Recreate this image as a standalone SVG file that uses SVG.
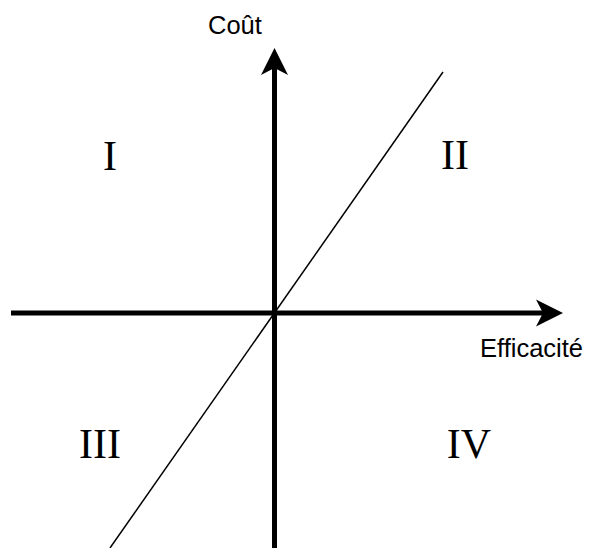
<svg xmlns="http://www.w3.org/2000/svg" width="589" height="548" viewBox="0 0 589 548">
<style>
.axis{stroke:#000;stroke-width:5;fill:none}
.diag{stroke:#000;stroke-width:1.5;fill:none}
.lbl{font-family:"Liberation Sans",Arial,sans-serif;font-size:25.5px;fill:#000}
.num{font-family:"Liberation Serif","Times New Roman",serif;font-size:42px;fill:#000;text-anchor:middle}
</style>
<rect width="589" height="548" fill="#fff"/>
<g id="connectors">
<line id="diagonal" class="diag" x1="110" y1="548" x2="443" y2="72"/>
<line id="y-axis" class="axis" x1="274.5" y1="548" x2="274.5" y2="66"/>
<path id="y-arrow" d="M274.5,48 L288,75 L274.5,68 L261,75 Z" fill="#000"/>
<line id="x-axis" class="axis" x1="11" y1="313" x2="548" y2="313"/>
<path id="x-arrow" d="M563,313 L536,326.5 L543,313 L536,299.5 Z" fill="#000"/>
</g>
<g id="label-cout"><text class="lbl" x="208" y="34">Coût</text></g>
<g id="label-efficacite"><text class="lbl" x="480" y="357">Efficacité</text></g>
<g id="q1"><text class="num" x="110" y="170">I</text></g>
<g id="q2"><text class="num" x="455" y="169">II</text></g>
<g id="q3"><text class="num" x="100" y="458">III</text></g>
<g id="q4"><text class="num" x="469" y="458">IV</text></g>
</svg>
